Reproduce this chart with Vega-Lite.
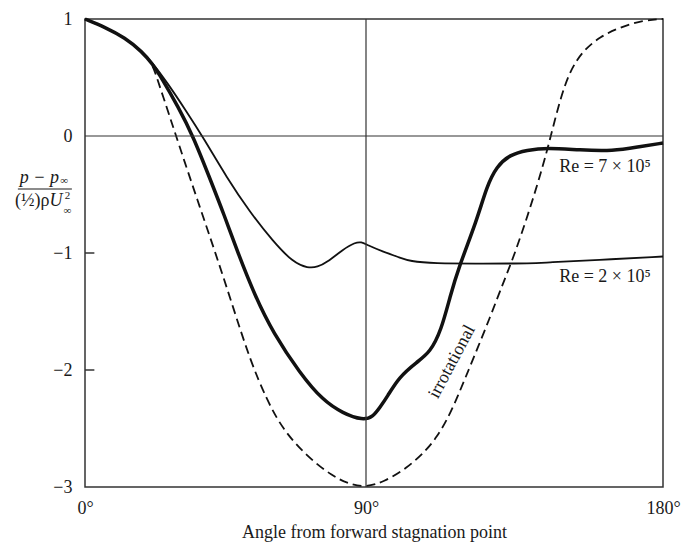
{
  "$schema": "https://vega.github.io/schema/vega-lite/v6.json",
  "width": 578,
  "height": 468,
  "autosize": {"type": "none"},
  "padding": {"left": 85, "top": 19, "right": 25, "bottom": 56},
  "background": "white",
  "config": {
    "view": {"stroke": "#333", "strokeWidth": 1.5},
    "font": "Liberation Serif"
  },
  "datasets": {
    "curves": [
      {"series": "irrotational", "angle": 0, "cp": 1},
      {"series": "irrotational", "angle": 6.4, "cp": 0.93},
      {"series": "irrotational", "angle": 12.8, "cp": 0.84},
      {"series": "irrotational", "angle": 18.3, "cp": 0.72},
      {"series": "irrotational", "angle": 21.5, "cp": 0.62},
      {"series": "irrotational", "angle": 23, "cp": 0.5},
      {"series": "irrotational", "angle": 26.6, "cp": 0.21},
      {"series": "irrotational", "angle": 28.8, "cp": 0.03},
      {"series": "irrotational", "angle": 31.4, "cp": -0.18},
      {"series": "irrotational", "angle": 36.8, "cp": -0.61},
      {"series": "irrotational", "angle": 41.8, "cp": -1.0},
      {"series": "irrotational", "angle": 47.4, "cp": -1.46},
      {"series": "irrotational", "angle": 52.8, "cp": -1.91},
      {"series": "irrotational", "angle": 58.3, "cp": -2.26},
      {"series": "irrotational", "angle": 63.4, "cp": -2.51},
      {"series": "irrotational", "angle": 71.1, "cp": -2.74},
      {"series": "irrotational", "angle": 79.4, "cp": -2.91},
      {"series": "irrotational", "angle": 85, "cp": -2.98},
      {"series": "irrotational", "angle": 90, "cp": -3},
      {"series": "irrotational", "angle": 95.2, "cp": -2.96},
      {"series": "irrotational", "angle": 102.4, "cp": -2.84},
      {"series": "irrotational", "angle": 108.5, "cp": -2.68},
      {"series": "irrotational", "angle": 111.5, "cp": -2.57},
      {"series": "irrotational", "angle": 114.5, "cp": -2.43},
      {"series": "irrotational", "angle": 117.6, "cp": -2.24},
      {"series": "irrotational", "angle": 122.4, "cp": -1.91},
      {"series": "irrotational", "angle": 127.6, "cp": -1.55},
      {"series": "irrotational", "angle": 131.5, "cp": -1.26},
      {"series": "irrotational", "angle": 134.8, "cp": -1.03},
      {"series": "irrotational", "angle": 139.6, "cp": -0.63},
      {"series": "irrotational", "angle": 143.6, "cp": -0.26},
      {"series": "irrotational", "angle": 146, "cp": 0.0},
      {"series": "irrotational", "angle": 148.8, "cp": 0.31},
      {"series": "irrotational", "angle": 151.8, "cp": 0.56},
      {"series": "irrotational", "angle": 155.8, "cp": 0.73},
      {"series": "irrotational", "angle": 161, "cp": 0.85},
      {"series": "irrotational", "angle": 167, "cp": 0.93},
      {"series": "irrotational", "angle": 174, "cp": 0.99},
      {"series": "irrotational", "angle": 180, "cp": 1},

      {"series": "Re7", "angle": 0, "cp": 1},
      {"series": "Re7", "angle": 6.4, "cp": 0.93},
      {"series": "Re7", "angle": 12.8, "cp": 0.84},
      {"series": "Re7", "angle": 18.3, "cp": 0.72},
      {"series": "Re7", "angle": 21.5, "cp": 0.62},
      {"series": "Re7", "angle": 24.7, "cp": 0.49},
      {"series": "Re7", "angle": 29.8, "cp": 0.25},
      {"series": "Re7", "angle": 34.6, "cp": 0.0},
      {"series": "Re7", "angle": 39.8, "cp": -0.35},
      {"series": "Re7", "angle": 44.8, "cp": -0.69},
      {"series": "Re7", "angle": 48.7, "cp": -0.98},
      {"series": "Re7", "angle": 54.5, "cp": -1.37},
      {"series": "Re7", "angle": 60.2, "cp": -1.68},
      {"series": "Re7", "angle": 68.9, "cp": -2.03},
      {"series": "Re7", "angle": 76.2, "cp": -2.26},
      {"series": "Re7", "angle": 82.6, "cp": -2.37},
      {"series": "Re7", "angle": 89, "cp": -2.43},
      {"series": "Re7", "angle": 92.1, "cp": -2.4},
      {"series": "Re7", "angle": 94.2, "cp": -2.32},
      {"series": "Re7", "angle": 96.4, "cp": -2.23},
      {"series": "Re7", "angle": 100, "cp": -2.06},
      {"series": "Re7", "angle": 105.5, "cp": -1.93},
      {"series": "Re7", "angle": 109.4, "cp": -1.85},
      {"series": "Re7", "angle": 112.8, "cp": -1.66},
      {"series": "Re7", "angle": 115.5, "cp": -1.37},
      {"series": "Re7", "angle": 118, "cp": -1.13},
      {"series": "Re7", "angle": 123.6, "cp": -0.72},
      {"series": "Re7", "angle": 126.6, "cp": -0.43},
      {"series": "Re7", "angle": 129.6, "cp": -0.26},
      {"series": "Re7", "angle": 133.6, "cp": -0.16},
      {"series": "Re7", "angle": 138.7, "cp": -0.12},
      {"series": "Re7", "angle": 145, "cp": -0.1},
      {"series": "Re7", "angle": 154.8, "cp": -0.12},
      {"series": "Re7", "angle": 164.8, "cp": -0.13},
      {"series": "Re7", "angle": 173, "cp": -0.09},
      {"series": "Re7", "angle": 180, "cp": -0.06},

      {"series": "Re2", "angle": 0, "cp": 1},
      {"series": "Re2", "angle": 6.4, "cp": 0.93},
      {"series": "Re2", "angle": 12.8, "cp": 0.84},
      {"series": "Re2", "angle": 18.3, "cp": 0.72},
      {"series": "Re2", "angle": 21.5, "cp": 0.63},
      {"series": "Re2", "angle": 26.5, "cp": 0.45},
      {"series": "Re2", "angle": 32, "cp": 0.23},
      {"series": "Re2", "angle": 37.8, "cp": -0.01},
      {"series": "Re2", "angle": 45.5, "cp": -0.36},
      {"series": "Re2", "angle": 52.8, "cp": -0.65},
      {"series": "Re2", "angle": 60.2, "cp": -0.9},
      {"series": "Re2", "angle": 66.6, "cp": -1.08},
      {"series": "Re2", "angle": 71.4, "cp": -1.13},
      {"series": "Re2", "angle": 74.5, "cp": -1.12},
      {"series": "Re2", "angle": 77.5, "cp": -1.08},
      {"series": "Re2", "angle": 82.6, "cp": -0.97},
      {"series": "Re2", "angle": 86.5, "cp": -0.91},
      {"series": "Re2", "angle": 88.5, "cp": -0.905},
      {"series": "Re2", "angle": 90.3, "cp": -0.93},
      {"series": "Re2", "angle": 95.2, "cp": -0.99},
      {"series": "Re2", "angle": 100.4, "cp": -1.04},
      {"series": "Re2", "angle": 103.3, "cp": -1.07},
      {"series": "Re2", "angle": 110.3, "cp": -1.09},
      {"series": "Re2", "angle": 125.5, "cp": -1.09},
      {"series": "Re2", "angle": 140.6, "cp": -1.09},
      {"series": "Re2", "angle": 144.8, "cp": -1.08},
      {"series": "Re2", "angle": 160, "cp": -1.06},
      {"series": "Re2", "angle": 180, "cp": -1.03}
    ]
  },
  "layer": [
    {
      "data": {"name": "curves"},
      "encoding": {
        "x": {
          "field": "angle",
          "type": "quantitative",
          "scale": {"domain": [0, 90, 180], "range": [0, 281, 578], "nice": false, "zero": false},
          "axis": {
            "values": [0, 90, 180],
            "labelExpr": "datum.value + '°'",
            "grid": false,
            "domain": false,
            "ticks": false,
            "labelFlush": false,
            "labelPadding": 12,
            "labelFontSize": 18,
            "labelFont": "Liberation Serif",
            "labelColor": "#1a1a1a",
            "title": "Angle from forward stagnation point",
            "titleFont": "Liberation Serif",
            "titleFontSize": 18,
            "titleFontWeight": "normal",
            "titleColor": "#1a1a1a",
            "titlePadding": 6
          }
        },
        "y": {
          "field": "cp",
          "type": "quantitative",
          "scale": {"domain": [-3, 1], "nice": false, "zero": false},
          "axis": {
            "values": [-3, -2, -1, 0, 1],
            "format": "d",
            "grid": false,
            "domain": false,
            "ticks": false,
            "labelPadding": 13,
            "labelFontSize": 18,
            "labelFont": "Liberation Serif",
            "labelColor": "#1a1a1a",
            "title": null
          }
        }
      },
      "layer": [
        {
          "transform": [{"filter": "datum.series === 'irrotational'"}],
          "mark": {"type": "line", "color": "#111", "strokeWidth": 1.8, "strokeDash": [9, 5], "interpolate": "basis"}
        },
        {
          "transform": [{"filter": "datum.series === 'Re2'"}],
          "mark": {"type": "line", "color": "#111", "strokeWidth": 1.8, "interpolate": "basis"}
        },
        {
          "transform": [{"filter": "datum.series === 'Re7'"}],
          "mark": {"type": "line", "color": "#111", "strokeWidth": 3.5, "interpolate": "basis"}
        }
      ]
    },
    {
      "data": {"values": [{"v": 0}]},
      "mark": {"type": "rule", "color": "#333", "strokeWidth": 1.2},
      "encoding": {"y": {"field": "v", "type": "quantitative", "axis": {"format": "d"}}}
    },
    {
      "data": {"values": [{"a": 90}]},
      "mark": {"type": "rule", "color": "#333", "strokeWidth": 1.2},
      "encoding": {"x": {"field": "a", "type": "quantitative"}}
    },
    {
      "data": {"values": [{"tick": -2}, {"tick": -1}]},
      "mark": {"type": "rule", "color": "#333", "strokeWidth": 1.5},
      "encoding": {
        "y": {"field": "tick", "type": "quantitative", "axis": {"format": "d"}},
        "x": {"datum": 0},
        "x2": {"datum": 3}
      }
    },
    {
      "data": {"values": [{"label": "Re = 7 × 10⁵", "a": 162.4, "v": -0.265}, {"label": "Re = 2 × 10⁵", "a": 162.4, "v": -1.205}]},
      "mark": {"type": "text", "fontSize": 18, "align": "center", "baseline": "middle", "color": "#1a1a1a", "font": "Liberation Serif"},
      "encoding": {
        "x": {"field": "a", "type": "quantitative"},
        "y": {"field": "v", "type": "quantitative", "axis": {"format": "d"}},
        "text": {"field": "label"}
      }
    },
    {
      "data": {"values": [{"label": "irrotational", "a": 116.1, "v": -1.93}]},
      "mark": {"type": "text", "fontSize": 18, "align": "center", "baseline": "middle", "angle": -62, "color": "#1a1a1a", "font": "Liberation Serif"},
      "encoding": {
        "x": {"field": "a", "type": "quantitative"},
        "y": {"field": "v", "type": "quantitative", "axis": {"format": "d"}},
        "text": {"field": "label"}
      }
    },
    {
      "data": {"values": [{"label": "p − p", "a": -14.6, "v": -0.36}]},
      "mark": {"type": "text", "fontSize": 18, "fontStyle": "italic", "align": "center", "baseline": "middle", "color": "#1a1a1a", "font": "Liberation Serif"},
      "encoding": {
        "x": {"field": "a", "type": "quantitative"},
        "y": {"field": "v", "type": "quantitative", "axis": {"format": "d"}},
        "text": {"field": "label"}
      }
    },
    {
      "data": {"values": [{"label": "U", "a": -11.4, "v": -0.556}]},
      "mark": {"type": "text", "fontSize": 18, "fontStyle": "italic", "align": "left", "baseline": "middle", "color": "#1a1a1a", "font": "Liberation Serif"},
      "encoding": {
        "x": {"field": "a", "type": "quantitative"},
        "y": {"field": "v", "type": "quantitative", "axis": {"format": "d"}},
        "text": {"field": "label"}
      }
    },
    {
      "data": {"values": [{"label": "(½)ρ", "a": -11.4, "v": -0.556}]},
      "mark": {"type": "text", "fontSize": 18, "align": "right", "baseline": "middle", "color": "#1a1a1a", "font": "Liberation Serif"},
      "encoding": {
        "x": {"field": "a", "type": "quantitative"},
        "y": {"field": "v", "type": "quantitative", "axis": {"format": "d"}},
        "text": {"field": "label"}
      }
    },
    {
      "data": {"values": [{"label": "∞", "a": -6.7, "v": -0.385}, {"label": "2", "a": -5.6, "v": -0.51}, {"label": "∞", "a": -5.6, "v": -0.645}]},
      "mark": {"type": "text", "fontSize": 11, "align": "center", "baseline": "middle", "color": "#1a1a1a", "font": "Liberation Serif"},
      "encoding": {
        "x": {"field": "a", "type": "quantitative"},
        "y": {"field": "v", "type": "quantitative", "axis": {"format": "d"}},
        "text": {"field": "label"}
      }
    },
    {
      "data": {"values": [{"a": -21.5, "a2": -4.2, "v": -0.453}]},
      "mark": {"type": "rule", "color": "#1a1a1a", "strokeWidth": 1.2},
      "encoding": {
        "x": {"field": "a", "type": "quantitative"},
        "x2": {"field": "a2"},
        "y": {"field": "v", "type": "quantitative", "axis": {"format": "d"}}
      }
    }
  ]
}
